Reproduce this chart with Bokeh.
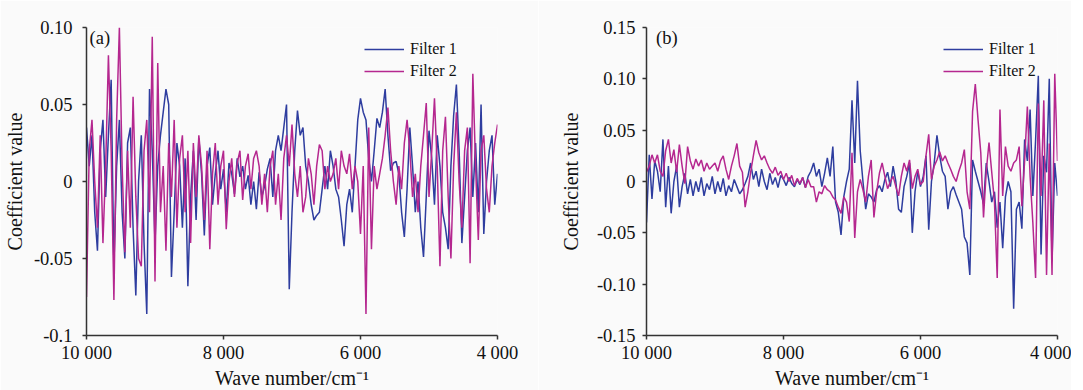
import numpy as np
from bokeh.plotting import figure
from bokeh.layouts import row
from bokeh.models import Range1d, FixedTicker, Legend, LegendItem, Label
from bokeh.embed import file_html
from bokeh.resources import INLINE

# wave numbers (cm^-1), sampled every 40 cm^-1 from 10000 down to 4000
WN_START, WN_END, WN_STEP = 10000, 4000, 40
wavenumber = np.arange(WN_START, WN_END - 1, -WN_STEP)

# Panel (a) coefficient values, in units of 1e-3
a_filter1 = [
    35, 10, 30, -20, -45, 20, 40, -10, 30, 66,
    -55, 10, 40, -20, -50, 25, 35, -30, -74, 0,
    30, -40, -86, 60, 20, -40, 10, 30, 45, 60,
    50, -62, -20, 25, 10, -30, 15, -68, -10, 20,
    -25, 28, 5, -35, 10, 22, -15, 5, 20, -5,
    8, -20, 12, 5, -8, 15, 3, 10, -5, 4,
    -15, 0, -18, 6, -10, -3, 8, 15, -10, 20,
    30, 20, 35, 50, -70, -20, 20, 46, 30, 35,
    10, 0, -15, -25, -22, -20, -5, 10, -5, 20,
    10, -5, -10, -25, -42, -15, -5, -20, 10, 40,
    54, 45, 40, 15, 0, 20, 41, 35, 45, 60,
    30, 7, 12, 13, 5, -20, -36, -5, 35, 10,
    -20, 0, -30, -49, -10, 33, 15, -15, 30, 10,
    -20, -30, -44, 10, 43, 63, 20, -40, -10, 20,
    35, -10, 25, -20, 50, -34, 0, 20, 30, -15,
    5,
]
a_filter2 = [
    -75, 20, 40, 0, -30, 30, -40, 10, 82, 20,
    -77, 40, 100, 10, -46, 20, -30, 55, -10, -50,
    -55, 20, 40, -20, 94, -65, 77, -20, 10, -45,
    25, -10, 40, -30, 15, 30, -20, 20, -40, 25,
    -10, 30, 10, -25, 20, -44, 5, 25, -15, 10,
    20, -31, 0, 15, -10, 12, 20, -12, 10, 18,
    -5, 15, 20, 10, -15, 5, -20, 10, 20, -15,
    5, -25, 15, 30, 10, 37, 5, -10, 10, -20,
    -10, 15, 5, -15, 10, 24, 20, -5, 10, 0,
    5, 15, -5, 20, 10, 5, 18, -5, 10, 0,
    -34, 10, -86, 35, -44, 10, -5, 5, 15, 30,
    48, 20, 0, -15, 10, -5, 25, 40, 20, -10,
    5, -20, 10, 30, 51, -10, 20, 54, 10, -55,
    20, 42, -10, -50, 10, 45, 0, -30, 20, 35,
    -53, 70, 10, -38, 20, 30, -5, -20, 10, 25,
    37,
]

# Panel (b) coefficient values, in units of 1e-3
b_filter1 = [
    -40, 26, -17, 20, 10, -10, 41, -25, 15, -31,
    0, 15, -25, -5, 8, -12, 2, -14, 0, -10,
    4, -14, -2, -8, 5, -12, 0, -10, 3, -14,
    -4, -10, 2, -5, -12, -8, -2, 5, 18, 2,
    10, -5, 12, 0, -8, 8, -3, 4, -6, 6,
    2, -4, 4, -2, -5, 2, -3, 4, -6, 5,
    10, 18, 5, 12, -5, 8, 23, 5, 34, -20,
    -30, -52, -15, 0, 12, 79, 18, 98, 30, 0,
    -27, -12, -15, -20, -8, -4, -10, 2, 9, -5,
    15, 0, -27, -30, -5, 5, 18, -50, -10, 10,
    -5, 5, 25, -47, 0, 18, 45, 25, 10, 5,
    -27, -10, -5, -13, -20, -27, -54, -60, -91, 21,
    10, 0, -10, -22, 18, 0, -20, -10, -45, -20,
    -65, -15, 0, -10, -124, -27, -20, -46, 41, 20,
    70, -14, 40, 103, -71, 25, 9, 100, -78, 18,
    -14,
]
b_filter2 = [
    9, 15, 26, 18, 26, 10, 5, 30, 41, 18,
    31, 9, 36, 15, -2, 34, 20, 12, 22, 15,
    21, 10, 18, 12, 15, 18, 10, 20, 25, 12,
    2, 15, 25, 37, 15, 9, -25, -10, 9, 25,
    40, 28, 21, 25, 18, 12, 8, 14, 6, 10,
    2, 8, 0, 6, -4, 3, -2, 4, -6, 2,
    -5, -5, -20, -10, -12, -4, -8, -10, -15, -18,
    -25, -31, -15, -20, -39, 28, -55, -10, 2, -8,
    -20, 5, 21, -35, -10, 8, 18, 5, -7, 0,
    5, -5, -14, 5, 18, 10, 21, -7, 5, 12,
    -3, 0, 25, 46, 2, 15, 21, 29, 20, 25,
    18, 12, 5, 0, 10, 18, 31, -10, -27, 68,
    95, 60, 28, -35, 10, 38, 9, -20, -94, 70,
    -14, 34, 15, 10, 18, 21, 34, -24, 20, 73,
    5, -40, -94, 76, -14, 79, -91, 37, -91, 105,
    20,
]

x_ticks = [10000, 8000, 6000, 4000]
x_tick_labels = ["10 000", "8 000", "6 000", "4 000"]
a_y_ticks = [0.10, 0.05, 0.0, -0.05, -0.10]
a_y_tick_labels = ["0.10", "0.05", "0", "-0.05", "-0.1"]
b_y_ticks = [0.15, 0.10, 0.05, 0.0, -0.05, -0.10, -0.15]
b_y_tick_labels = ["0.15", "0.10", "0.05", "0", "-0.05", "-0.10", "-0.15"]
series_names = ["Filter 1", "Filter 2"]

BLUE = "#2e3d9f"
MAGENTA = "#b5278f"
BG = "#fafafa"
FONT = "Liberation Serif"


def panel(tag, f1, f2, ylim, yt, ytl, bl, br, tick_sd, lab_sd, leg_x, tag_xy):
    p = figure(frame_width=411, frame_height=308, output_backend="svg",
               toolbar_location=None,
               x_range=Range1d(WN_START, WN_END), y_range=Range1d(*ylim),
               min_border_left=bl, min_border_right=br, min_border_top=27,
               min_border_bottom=40)
    p.background_fill_color = BG
    p.border_fill_color = BG
    p.outline_line_color = None
    p.grid.visible = False

    r1 = p.line(wavenumber, np.array(f1) / 1000.0, line_color=BLUE, line_width=1.5)
    r2 = p.line(wavenumber, np.array(f2) / 1000.0, line_color=MAGENTA, line_width=1.5)

    for ax in (p.xaxis[0], p.yaxis[0]):
        ax.axis_line_color = "#333333"
        ax.axis_line_width = 1.5
        ax.major_tick_line_color = "#333333"
        ax.major_tick_line_width = 1.5
        ax.major_tick_in = 0
        ax.major_tick_out = 4
        ax.minor_tick_in = 0
        ax.minor_tick_out = 0
        ax.major_label_text_font = FONT
        ax.major_label_text_font_size = "18.5px"
        ax.major_label_text_color = "#111111"
        ax.axis_label_text_font = FONT
        ax.axis_label_text_font_size = "20px"
        ax.axis_label_text_font_style = "normal"
        ax.axis_label_text_color = "#111111"

    p.xaxis.ticker = FixedTicker(ticks=x_ticks)
    p.xaxis.major_label_overrides = dict(zip(x_ticks, x_tick_labels))
    p.xaxis.axis_label = "Wave number/cm\u207b\u00b9"
    p.xaxis.major_label_standoff = 3
    p.xaxis.axis_label_standoff = 1

    p.yaxis.ticker = FixedTicker(ticks=yt)
    p.yaxis.major_label_overrides = dict(zip(yt, ytl))
    p.yaxis.axis_label = "Coefficient value"
    p.yaxis.major_label_standoff = tick_sd
    p.yaxis.axis_label_standoff = lab_sd

    legend = Legend(items=[LegendItem(label=series_names[0], renderers=[r1]),
                           LegendItem(label=series_names[1], renderers=[r2])],
                    location=(leg_x, 254), border_line_color=None,
                    background_fill_alpha=0, padding=0, margin=0, spacing=2,
                    glyph_width=40, glyph_height=20, label_height=20,
                    label_standoff=6, label_text_font=FONT,
                    label_text_font_size="16px", label_text_color="#111111")
    p.add_layout(legend)

    p.add_layout(Label(x=tag_xy[0], y=tag_xy[1], text=tag, text_baseline="top",
                       text_font=FONT, text_font_size="18.5px", text_color="#111111"))
    return p


pa = panel("(a)", a_filter1, a_filter2, (-0.10, 0.10), a_y_ticks, a_y_tick_labels,
           bl=80, br=41, tick_sd=10, lab_sd=5, leg_x=278,
           tag_xy=(9955, 0.100))
pb = panel("(b)", b_filter1, b_filter2, (-0.15, 0.15), b_y_ticks, b_y_tick_labels,
           bl=108, br=14, tick_sd=7, lab_sd=12, leg_x=297,
           tag_xy=(9860, 0.150))

layout = row(pa, pb)
open("out.html", "w").write(file_html(layout, INLINE))
